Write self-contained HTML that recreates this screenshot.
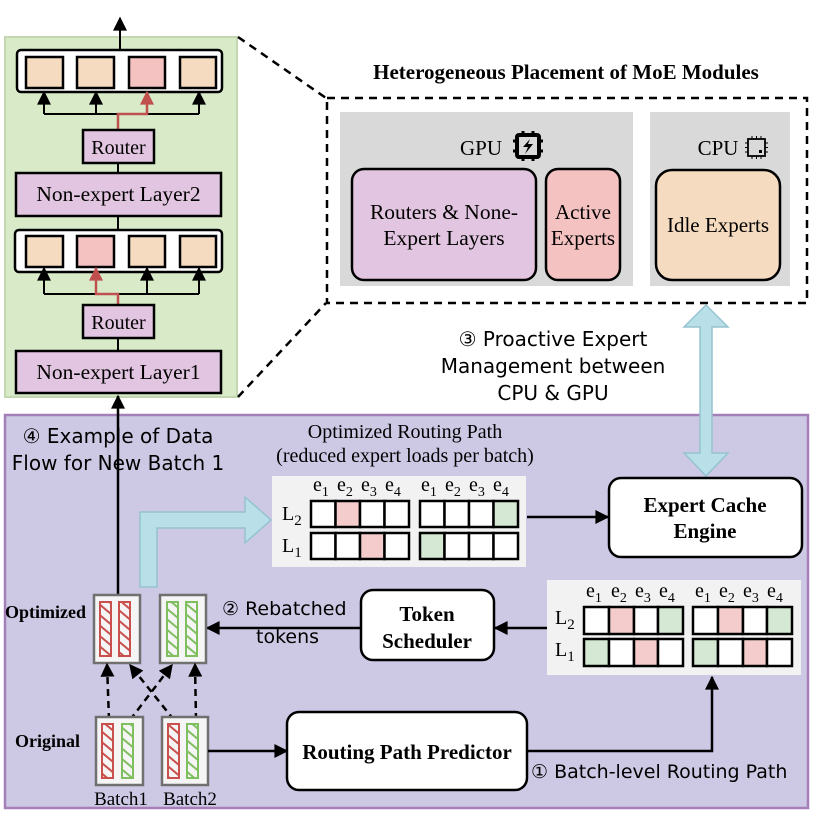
<!DOCTYPE html>
<html><head><meta charset="utf-8"><style>
html,body{margin:0;padding:0;background:#fff}
svg{display:block}
.s{font-family:"Liberation Serif",serif}
.c{font-family:"DejaVu Sans","Liberation Sans",sans-serif}
</style></head><body>
<svg width="813" height="813" viewBox="0 0 813 813" xmlns="http://www.w3.org/2000/svg">
<defs>
<marker id="ab" viewBox="0 0 10 10" refX="9" refY="5" markerWidth="16" markerHeight="14" orient="auto" markerUnits="userSpaceOnUse"><path d="M0,0L10,5L0,10z" fill="#000"/></marker>
<marker id="ar" viewBox="0 0 10 10" refX="9" refY="5" markerWidth="16" markerHeight="14" orient="auto" markerUnits="userSpaceOnUse"><path d="M0,0L10,5L0,10z" fill="#c0504d"/></marker>
<pattern id="pr" width="8" height="8" patternUnits="userSpaceOnUse" patternTransform="rotate(-50)"><rect width="8" height="8" fill="#f5f5f5"/><rect width="2" height="8" fill="#c9504c"/></pattern>
<pattern id="pg" width="8" height="8" patternUnits="userSpaceOnUse" patternTransform="rotate(-50)"><rect width="8" height="8" fill="#f5f5f5"/><rect width="2" height="8" fill="#7fbf5f"/></pattern>
</defs>

<!-- green panel -->
<rect x="5" y="37" width="232" height="360" fill="#d9eac9" stroke="#c3d8b0" stroke-width="2"/>
<line x1="120" y1="50" x2="120" y2="18" stroke="#000" stroke-width="2" marker-end="url(#ab)"/>
<rect x="17" y="50" width="205" height="42" rx="4" fill="#fff" stroke="#000" stroke-width="2.5"/>
<g stroke="#000" stroke-width="2.5">
<rect x="26" y="57" width="37" height="31" fill="#f5dbbf"/>
<rect x="77" y="57" width="37" height="31" fill="#f5dbbf"/>
<rect x="129" y="57" width="36" height="31" fill="#f4c2c0"/>
<rect x="180" y="57" width="36" height="31" fill="#f5dbbf"/>
</g>
<g stroke="#000" stroke-width="2" fill="none">
<polyline points="44,114 199,114"/>
<line x1="44" y1="114" x2="44" y2="92" marker-end="url(#ab)"/>
<line x1="96" y1="114" x2="96" y2="92" marker-end="url(#ab)"/>
<line x1="199" y1="114" x2="199" y2="92" marker-end="url(#ab)"/>
</g>
<polyline points="118,130 118,114 147,114 147,92" fill="none" stroke="#c0504d" stroke-width="2.5" marker-end="url(#ar)"/>
<rect x="83" y="130" width="71" height="33" fill="#e2c5e0" stroke="#000" stroke-width="2.5"/>
<text x="118.5" y="154" class="s" font-size="20" text-anchor="middle">Router</text>
<line x1="118" y1="163" x2="118" y2="173" stroke="#000" stroke-width="2"/>
<rect x="16" y="173" width="205" height="43" fill="#e2c5e0" stroke="#000" stroke-width="2.5"/>
<text x="118.5" y="201" class="s" font-size="21.5" text-anchor="middle">Non-expert Layer2</text>
<line x1="118" y1="216" x2="118" y2="230" stroke="#000" stroke-width="2"/>
<rect x="15" y="230" width="207" height="42" rx="4" fill="#fff" stroke="#000" stroke-width="2.5"/>
<g stroke="#000" stroke-width="2.5">
<rect x="26" y="236" width="37" height="31" fill="#f5dbbf"/>
<rect x="77" y="236" width="37" height="31" fill="#f4c2c0"/>
<rect x="129" y="236" width="36" height="31" fill="#f5dbbf"/>
<rect x="180" y="236" width="36" height="31" fill="#f5dbbf"/>
</g>
<g stroke="#000" stroke-width="2" fill="none">
<polyline points="44,294 199,294"/>
<line x1="44" y1="294" x2="44" y2="268" marker-end="url(#ab)"/>
<line x1="147" y1="294" x2="147" y2="268" marker-end="url(#ab)"/>
<line x1="199" y1="294" x2="199" y2="268" marker-end="url(#ab)"/>
</g>
<polyline points="118,305 118,294 96,294 96,268" fill="none" stroke="#c0504d" stroke-width="2.5" marker-end="url(#ar)"/>
<rect x="83" y="305" width="71" height="33" fill="#e2c5e0" stroke="#000" stroke-width="2.5"/>
<text x="118.5" y="329" class="s" font-size="20" text-anchor="middle">Router</text>
<line x1="118" y1="338" x2="118" y2="351" stroke="#000" stroke-width="2"/>
<rect x="16" y="351" width="205" height="42" fill="#e2c5e0" stroke="#000" stroke-width="2.5"/>
<text x="118.5" y="379" class="s" font-size="21.5" text-anchor="middle">Non-expert Layer1</text>

<!-- dashed connectors -->
<g stroke="#000" stroke-width="2.5" stroke-dasharray="8,6" fill="none">
<line x1="238" y1="37" x2="326" y2="98"/>
<line x1="238" y1="397" x2="326" y2="303"/>
<rect x="327" y="98" width="480" height="205"/>
</g>
<text x="566" y="79" class="s" font-size="21" font-weight="bold" text-anchor="middle">Heterogeneous Placement of MoE Modules</text>
<rect x="340" y="112" width="293" height="174" fill="#d9d9d9"/>
<rect x="650" y="112" width="140" height="174" fill="#d9d9d9"/>
<text x="481" y="155" class="s" font-size="21" text-anchor="middle">GPU</text>
<g transform="translate(513,131)">
<rect x="4" y="4" width="22" height="22" rx="2" fill="none" stroke="#000" stroke-width="4"/>
<path d="M17,8 L10,16 L15,16 L12,23 L20,13 L15,13 Z" fill="#000"/>
<g stroke="#000" stroke-width="3"><line x1="10" y1="0" x2="10" y2="4"/><line x1="20" y1="0" x2="20" y2="4"/><line x1="10" y1="26" x2="10" y2="30"/><line x1="20" y1="26" x2="20" y2="30"/><line x1="0" y1="10" x2="4" y2="10"/><line x1="0" y1="20" x2="4" y2="20"/><line x1="26" y1="10" x2="30" y2="10"/><line x1="26" y1="20" x2="30" y2="20"/></g>
</g>
<text x="718" y="155" class="s" font-size="21" text-anchor="middle">CPU</text>
<g transform="translate(745,136)">
<rect x="3" y="3" width="17" height="17" fill="none" stroke="#000" stroke-width="1.8"/>
<rect x="14" y="14" width="3" height="3" fill="#000"/>
<g stroke="#000" stroke-width="1"><line x1="7" y1="0" x2="7" y2="3"/><line x1="11.5" y1="0" x2="11.5" y2="3"/><line x1="16" y1="0" x2="16" y2="3"/><line x1="7" y1="20" x2="7" y2="23"/><line x1="11.5" y1="20" x2="11.5" y2="23"/><line x1="16" y1="20" x2="16" y2="23"/><line x1="0" y1="7" x2="3" y2="7"/><line x1="0" y1="11.5" x2="3" y2="11.5"/><line x1="0" y1="16" x2="3" y2="16"/><line x1="20" y1="7" x2="23" y2="7"/><line x1="20" y1="11.5" x2="23" y2="11.5"/><line x1="20" y1="16" x2="23" y2="16"/></g>
</g>
<rect x="352" y="169" width="184" height="111" rx="12" fill="#e2c5e0" stroke="#000" stroke-width="2.5"/>
<text x="444" y="219" class="s" font-size="21.5" text-anchor="middle">Routers &amp; None-</text>
<text x="444" y="245" class="s" font-size="21.5" text-anchor="middle">Expert Layers</text>
<rect x="546" y="169" width="74" height="111" rx="12" fill="#f4c2c0" stroke="#000" stroke-width="2.5"/>
<text x="583" y="219" class="s" font-size="21" text-anchor="middle">Active</text>
<text x="583" y="245" class="s" font-size="21" text-anchor="middle">Experts</text>
<rect x="656" y="170" width="124" height="110" rx="16" fill="#f5dbbf" stroke="#000" stroke-width="2.5"/>
<text x="718" y="232" class="s" font-size="21" text-anchor="middle">Idle Experts</text>

<text x="553" y="346" class="c" font-size="20" text-anchor="middle">③ Proactive Expert</text>
<text x="553" y="373" class="c" font-size="20" text-anchor="middle">Management between</text>
<text x="553" y="400" class="c" font-size="20" text-anchor="middle">CPU &amp; GPU</text>

<!-- purple panel -->
<rect x="5" y="415" width="803" height="393" fill="#cdc9e4" stroke="#a47fb8" stroke-width="2.5"/>

<!-- double arrow -->
<path d="M706,305 L728,327 L712,327 L712,453 L728,453 L706,476 L684,453 L700,453 L700,327 L684,327 Z" fill="#b9dfe8" stroke="#95c3cf" stroke-width="1.5"/>

<line x1="118" y1="595" x2="118" y2="396" stroke="#000" stroke-width="2.5" marker-end="url(#ab)"/>
<text x="118" y="443" class="c" font-size="20" text-anchor="middle">④ Example of Data</text>
<text x="118" y="470" class="c" font-size="20" text-anchor="middle">Flow for New Batch 1</text>
<text x="405" y="438" class="s" font-size="20" text-anchor="middle">Optimized Routing Path</text>
<text x="405" y="462" class="s" font-size="20" text-anchor="middle">(reduced expert loads per batch)</text>

<!-- L blue arrow -->
<path d="M140,587 L140,512 L245,512 L245,497 L271,520 L245,543 L245,528 L157,528 L157,587 Z" fill="#b9dfe8" stroke="#95c3cf" stroke-width="1.5"/>

<!-- table 1 -->
<rect x="272" y="476" width="254" height="91" fill="#f2f2f2"/>
<g class="s" font-size="20">
<text x="313" y="491">e<tspan font-size="14" dy="5">1</tspan></text><text x="337" y="491">e<tspan font-size="14" dy="5">2</tspan></text><text x="361" y="491">e<tspan font-size="14" dy="5">3</tspan></text><text x="385" y="491">e<tspan font-size="14" dy="5">4</tspan></text>
<text x="421" y="491">e<tspan font-size="14" dy="5">1</tspan></text><text x="445" y="491">e<tspan font-size="14" dy="5">2</tspan></text><text x="469" y="491">e<tspan font-size="14" dy="5">3</tspan></text><text x="493" y="491">e<tspan font-size="14" dy="5">4</tspan></text>
<text x="282" y="520">L<tspan font-size="15" dy="5">2</tspan></text>
<text x="282" y="552">L<tspan font-size="15" dy="5">1</tspan></text>
</g>
<g stroke="#000" stroke-width="2.5" fill="#fff">
<rect x="311" y="501" width="24.5" height="26"/><rect x="335.5" y="501" width="24.5" height="26" fill="#f4cccc"/><rect x="360" y="501" width="24.5" height="26"/><rect x="384.5" y="501" width="24.5" height="26"/>
<rect x="311" y="533" width="24.5" height="26"/><rect x="335.5" y="533" width="24.5" height="26"/><rect x="360" y="533" width="24.5" height="26" fill="#f4cccc"/><rect x="384.5" y="533" width="24.5" height="26"/>
<rect x="420" y="501" width="24.5" height="26"/><rect x="444.5" y="501" width="24.5" height="26"/><rect x="469" y="501" width="24.5" height="26"/><rect x="493.5" y="501" width="24.5" height="26" fill="#d5e8d4"/>
<rect x="420" y="533" width="24.5" height="26" fill="#d5e8d4"/><rect x="444.5" y="533" width="24.5" height="26"/><rect x="469" y="533" width="24.5" height="26"/><rect x="493.5" y="533" width="24.5" height="26"/>
</g>
<line x1="527" y1="517" x2="608" y2="517" stroke="#000" stroke-width="2.5" marker-end="url(#ab)"/>
<rect x="609" y="478" width="193" height="79" rx="12" fill="#fff" stroke="#000" stroke-width="2.5"/>
<text x="705" y="512" class="s" font-size="21" font-weight="bold" text-anchor="middle">Expert Cache</text>
<text x="705" y="538" class="s" font-size="21" font-weight="bold" text-anchor="middle">Engine</text>

<!-- table 2 -->
<rect x="547" y="580" width="254" height="95" fill="#f2f2f2"/>
<g class="s" font-size="20">
<text x="586" y="597">e<tspan font-size="14" dy="5">1</tspan></text><text x="611" y="597">e<tspan font-size="14" dy="5">2</tspan></text><text x="635" y="597">e<tspan font-size="14" dy="5">3</tspan></text><text x="659" y="597">e<tspan font-size="14" dy="5">4</tspan></text>
<text x="695" y="597">e<tspan font-size="14" dy="5">1</tspan></text><text x="719" y="597">e<tspan font-size="14" dy="5">2</tspan></text><text x="743" y="597">e<tspan font-size="14" dy="5">3</tspan></text><text x="767" y="597">e<tspan font-size="14" dy="5">4</tspan></text>
<text x="555" y="624">L<tspan font-size="15" dy="5">2</tspan></text>
<text x="555" y="656">L<tspan font-size="15" dy="5">1</tspan></text>
</g>
<g stroke="#000" stroke-width="2.5" fill="#fff">
<rect x="584" y="607" width="25" height="27"/><rect x="609" y="607" width="25" height="27" fill="#f4cccc"/><rect x="634" y="607" width="24" height="27"/><rect x="658" y="607" width="25" height="27" fill="#d5e8d4"/>
<rect x="584" y="639" width="25" height="27" fill="#d5e8d4"/><rect x="609" y="639" width="25" height="27"/><rect x="634" y="639" width="24" height="27" fill="#f4cccc"/><rect x="658" y="639" width="25" height="27"/>
<rect x="693" y="607" width="25" height="27"/><rect x="718" y="607" width="25" height="27" fill="#f4cccc"/><rect x="743" y="607" width="24" height="27"/><rect x="767" y="607" width="25" height="27" fill="#d5e8d4"/>
<rect x="693" y="639" width="25" height="27" fill="#d5e8d4"/><rect x="718" y="639" width="25" height="27"/><rect x="743" y="639" width="24" height="27" fill="#f4cccc"/><rect x="767" y="639" width="25" height="27"/>
</g>

<!-- token scheduler -->
<line x1="547" y1="628" x2="495" y2="628" stroke="#000" stroke-width="2.5" marker-end="url(#ab)"/>
<rect x="361" y="590" width="133" height="70" rx="12" fill="#fff" stroke="#000" stroke-width="2.5"/>
<text x="427" y="621" class="s" font-size="21" font-weight="bold" text-anchor="middle">Token</text>
<text x="427" y="648" class="s" font-size="21" font-weight="bold" text-anchor="middle">Scheduler</text>
<line x1="361" y1="628" x2="207" y2="628" stroke="#000" stroke-width="2.5" marker-end="url(#ab)"/>
<text x="222" y="615" class="c" font-size="19">② Rebatched</text>
<text x="256" y="643" class="c" font-size="19">tokens</text>

<!-- optimized boxes -->
<text x="5" y="618" class="s" font-size="18" font-weight="bold">Optimized</text>
<rect x="94" y="595" width="46" height="68" fill="#f5f5f5" stroke="#707070" stroke-width="2.5"/>
<rect x="100" y="602" width="11" height="54" fill="url(#pr)" stroke="#c9504c" stroke-width="2"/>
<rect x="119" y="602" width="11" height="54" fill="url(#pr)" stroke="#c9504c" stroke-width="2"/>
<rect x="160" y="595" width="46" height="68" fill="#f5f5f5" stroke="#707070" stroke-width="2.5"/>
<rect x="167" y="602" width="11" height="54" fill="url(#pg)" stroke="#7fbf5f" stroke-width="2"/>
<rect x="186" y="602" width="11" height="54" fill="url(#pg)" stroke="#7fbf5f" stroke-width="2"/>

<!-- dashed crossing arrows -->
<g stroke="#000" stroke-width="2.5" stroke-dasharray="7,5" fill="none">
<line x1="109" y1="720" x2="107" y2="664" marker-end="url(#ab)"/>
<line x1="130" y1="720" x2="172" y2="665" marker-end="url(#ab)"/>
<line x1="174" y1="720" x2="130" y2="665" marker-end="url(#ab)"/>
<line x1="196" y1="720" x2="195" y2="664" marker-end="url(#ab)"/>
</g>

<!-- original -->
<text x="15" y="747" class="s" font-size="18" font-weight="bold">Original</text>
<rect x="96" y="717" width="47" height="68" fill="#f5f5f5" stroke="#707070" stroke-width="2.5"/>
<rect x="102" y="724" width="11" height="54" fill="url(#pr)" stroke="#c9504c" stroke-width="2"/>
<rect x="122" y="724" width="11" height="54" fill="url(#pg)" stroke="#7fbf5f" stroke-width="2"/>
<rect x="162" y="717" width="46" height="68" fill="#f5f5f5" stroke="#707070" stroke-width="2.5"/>
<rect x="168" y="724" width="11" height="54" fill="url(#pr)" stroke="#c9504c" stroke-width="2"/>
<rect x="187" y="724" width="11" height="54" fill="url(#pg)" stroke="#7fbf5f" stroke-width="2"/>
<text x="121" y="805" class="s" font-size="19" text-anchor="middle">Batch1</text>
<text x="190" y="805" class="s" font-size="19" text-anchor="middle">Batch2</text>

<line x1="208" y1="751" x2="287" y2="751" stroke="#000" stroke-width="2.5" marker-end="url(#ab)"/>
<rect x="287" y="712" width="240" height="78" rx="12" fill="#fff" stroke="#000" stroke-width="2.5"/>
<text x="407" y="759" class="s" font-size="21" font-weight="bold" text-anchor="middle">Routing Path Predictor</text>
<polyline points="527,751 712,751 712,677" fill="none" stroke="#000" stroke-width="2.5" marker-end="url(#ab)"/>
<text x="531" y="778" class="c" font-size="19">① Batch-level Routing Path</text>
</svg>
</body></html>
